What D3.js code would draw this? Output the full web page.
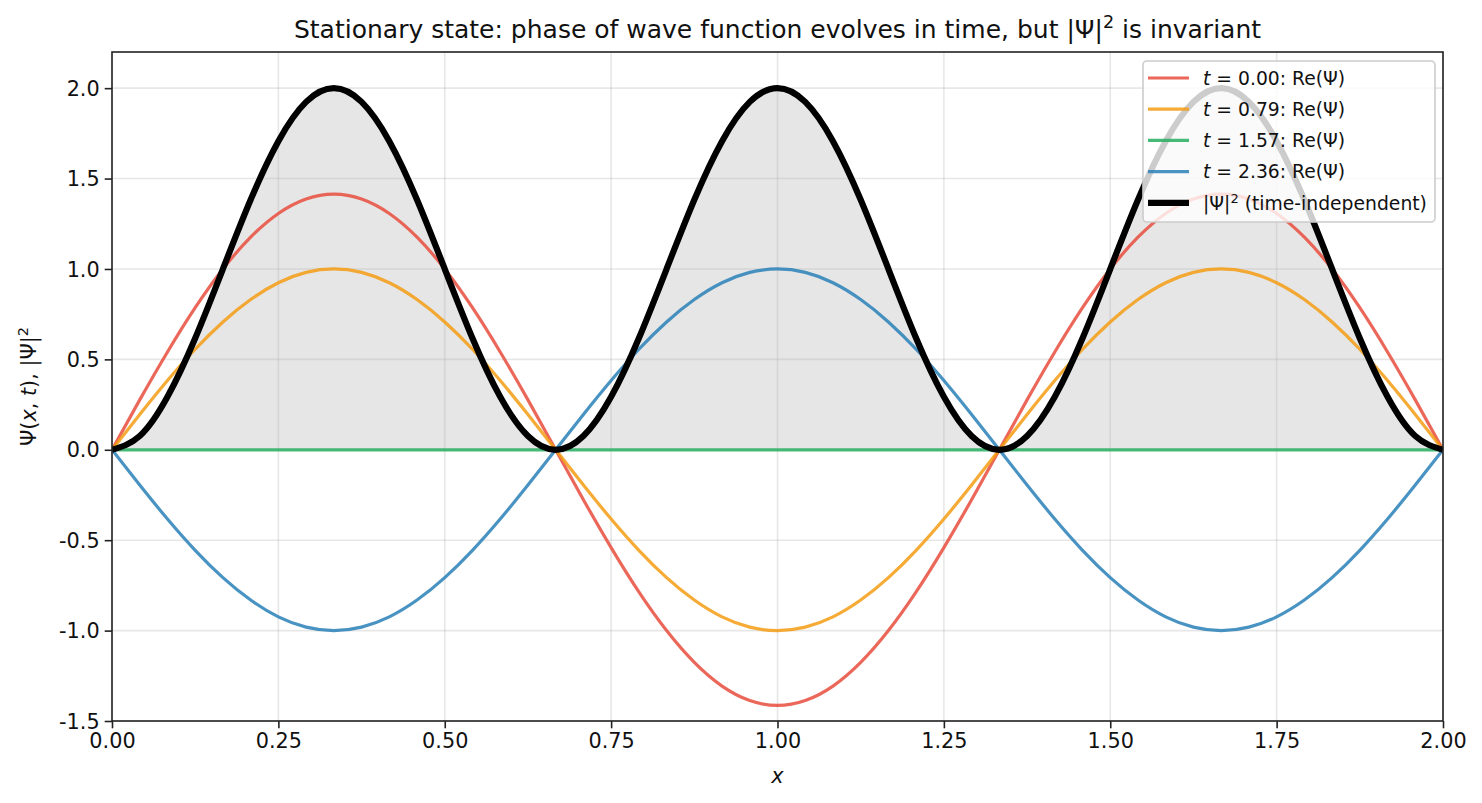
<!DOCTYPE html>
<html>
<head>
<meta charset="utf-8">
<script src="https://cdn.jsdelivr.net/npm/d3@7"></script>
<style>
  body { margin: 0; background: #fff; }
  svg { display: block; font-family: "DejaVu Sans", sans-serif; }
</style>
</head>
<body>
<svg id="chart" width="1482" height="803"></svg>
<script>
const xValues = d3.range(49).map(k => k / 24);
const reT000 = [0, 0.276, 0.541, 0.786, 1.000, 1.176, 1.307, 1.387, 1.414, 1.387, 1.307, 1.176, 1.000, 0.786, 0.541, 0.276, 0,
  -0.276, -0.541, -0.786, -1.000, -1.176, -1.307, -1.387, -1.414, -1.387, -1.307, -1.176, -1.000, -0.786, -0.541, -0.276, 0,
  0.276, 0.541, 0.786, 1.000, 1.176, 1.307, 1.387, 1.414, 1.387, 1.307, 1.176, 1.000, 0.786, 0.541, 0.276, 0];
const reT079 = [0, 0.195, 0.383, 0.556, 0.707, 0.831, 0.924, 0.981, 1.000, 0.981, 0.924, 0.831, 0.707, 0.556, 0.383, 0.195, 0,
  -0.195, -0.383, -0.556, -0.707, -0.831, -0.924, -0.981, -1.000, -0.981, -0.924, -0.831, -0.707, -0.556, -0.383, -0.195, 0,
  0.195, 0.383, 0.556, 0.707, 0.831, 0.924, 0.981, 1.000, 0.981, 0.924, 0.831, 0.707, 0.556, 0.383, 0.195, 0];
const reT157 = [0, 0, 0, 0, 0, 0, 0, 0, 0, 0, 0, 0, 0, 0, 0, 0, 0,
  0, 0, 0, 0, 0, 0, 0, 0, 0, 0, 0, 0, 0, 0, 0, 0,
  0, 0, 0, 0, 0, 0, 0, 0, 0, 0, 0, 0, 0, 0, 0, 0];
const reT236 = [0, -0.195, -0.383, -0.556, -0.707, -0.831, -0.924, -0.981, -1.000, -0.981, -0.924, -0.831, -0.707, -0.556, -0.383, -0.195, 0,
  0.195, 0.383, 0.556, 0.707, 0.831, 0.924, 0.981, 1.000, 0.981, 0.924, 0.831, 0.707, 0.556, 0.383, 0.195, 0,
  -0.195, -0.383, -0.556, -0.707, -0.831, -0.924, -0.981, -1.000, -0.981, -0.924, -0.831, -0.707, -0.556, -0.383, -0.195, 0];
const density = [0, 0.076, 0.293, 0.617, 1.000, 1.383, 1.707, 1.924, 2.000, 1.924, 1.707, 1.383, 1.000, 0.617, 0.293, 0.076, 0,
  0.076, 0.293, 0.617, 1.000, 1.383, 1.707, 1.924, 2.000, 1.924, 1.707, 1.383, 1.000, 0.617, 0.293, 0.076, 0,
  0.076, 0.293, 0.617, 1.000, 1.383, 1.707, 1.924, 2.000, 1.924, 1.707, 1.383, 1.000, 0.617, 0.293, 0.076, 0];
const timeLabels = ["0.00", "0.79", "1.57", "2.36"];
const xTicks = [0, 0.25, 0.5, 0.75, 1.0, 1.25, 1.5, 1.75, 2.0];
const yTicks = [-1.5, -1.0, -0.5, 0.0, 0.5, 1.0, 1.5, 2.0];

const series = [
  { t: timeLabels[0], values: reT000, color: "#e74c3c" },
  { t: timeLabels[1], values: reT079, color: "#f39c12" },
  { t: timeLabels[2], values: reT157, color: "#27ae60" },
  { t: timeLabels[3], values: reT236, color: "#2980b9" }
];

// ---- layout ----
const svg = d3.select("#chart");
const L = 112, R = 1443, T = 52, B = 721;
const x = d3.scaleLinear().domain([0, 2]).range([L, R]);
const y = d3.scaleLinear().domain([-1.5, 2.2]).range([B, T]);

// fill under density
const area = d3.area().x((d, i) => x(xValues[i])).y0(y(0)).y1(d => y(d)).curve(d3.curveNatural);
svg.append("path").datum(density).attr("d", area).attr("fill", "#808080").attr("fill-opacity", 0.2);

// grid
const grid = svg.append("g");
grid.selectAll(".gx").data(xTicks).enter().append("line")
  .attr("x1", d => x(d)).attr("x2", d => x(d)).attr("y1", T).attr("y2", B)
  .attr("stroke", "#b0b0b0").attr("stroke-opacity", 0.3).attr("stroke-width", 1.6);
grid.selectAll(".gy").data(yTicks).enter().append("line")
  .attr("y1", d => y(d)).attr("y2", d => y(d)).attr("x1", L).attr("x2", R)
  .attr("stroke", "#b0b0b0").attr("stroke-opacity", 0.3).attr("stroke-width", 1.6);

// lines
const line = d3.line().x((d, i) => x(xValues[i])).y(d => y(d)).curve(d3.curveNatural);
const clip = svg.append("clipPath").attr("id", "clip").append("rect")
  .attr("x", L).attr("y", T).attr("width", R - L).attr("height", B - T);
const plot = svg.append("g").attr("clip-path", "url(#clip)");
series.forEach(s => {
  plot.append("path").datum(s.values).attr("d", line)
    .attr("fill", "none").attr("stroke", s.color).attr("stroke-opacity", 0.85)
    .attr("stroke-width", 3.2).attr("stroke-linejoin", "round");
});
plot.append("path").datum(density).attr("d", line)
  .attr("fill", "none").attr("stroke", "#000").attr("stroke-width", 6.2).attr("stroke-linejoin", "round");

// axes
const xAxis = d3.axisBottom(x).tickValues(xTicks).tickFormat(d3.format(".2f")).tickSizeOuter(0).tickSize(7.3).tickPadding(5);
const yAxis = d3.axisLeft(y).tickValues(yTicks).tickFormat(d => d3.format(".1f")(d).replace("\u2212", "-")).tickSizeOuter(0).tickSize(7.3).tickPadding(5);
const gx = svg.append("g").attr("transform", `translate(0,${B})`).call(xAxis);
const gy = svg.append("g").attr("transform", `translate(${L},0)`).call(yAxis);
[gx, gy].forEach(g => {
  g.select(".domain").remove();
  g.selectAll(".tick line").attr("stroke", "#222").attr("stroke-width", 1.6);
  g.selectAll(".tick text").attr("font-size", 20.8).attr("fill", "#111").attr("font-family", "DejaVu Sans");
});
gy.selectAll(".tick text").attr("dy", "0.34em");

// frame
svg.append("rect").attr("x", L).attr("y", T).attr("width", R - L).attr("height", B - T)
  .attr("fill", "none").attr("stroke", "#222").attr("stroke-width", 1.6);

// title
const title = svg.append("text").attr("x", (L + R) / 2).attr("y", 38).attr("text-anchor", "middle")
  .attr("font-size", 25).attr("fill", "#111");
title.append("tspan").text("Stationary state: phase of wave function evolves in time, but |Ψ|");
title.append("tspan").attr("dy", -10).attr("font-size", 17.5).text("2");
title.append("tspan").attr("dy", 10).text(" is invariant");

// x label
svg.append("text").attr("x", (L + R) / 2).attr("y", 783).attr("text-anchor", "middle")
  .attr("font-size", 20.8).attr("font-style", "italic").attr("fill", "#111").text("x");

// y label
const yl = svg.append("text").attr("transform", `translate(36,${(T + B) / 2}) rotate(-90)`)
  .attr("text-anchor", "middle").attr("font-size", 20.8).attr("fill", "#111");
yl.append("tspan").text("Ψ(");
yl.append("tspan").attr("font-style", "italic").text("x");
yl.append("tspan").text(", ");
yl.append("tspan").attr("font-style", "italic").text("t");
yl.append("tspan").text("), |Ψ|");
yl.append("tspan").attr("dy", -8).attr("font-size", 14.6).text("2");

// legend
const lg = svg.append("g");
lg.append("rect").attr("x", 1143).attr("y", 61).attr("width", 292).attr("height", 161).attr("rx", 4)
  .attr("fill", "#fff").attr("fill-opacity", 0.8).attr("stroke", "#cccccc").attr("stroke-width", 1.6);
const rowY = i => 78 + i * 31.2;
series.forEach((s, i) => {
  lg.append("line").attr("x1", 1148).attr("x2", 1189).attr("y1", rowY(i)).attr("y2", rowY(i))
    .attr("stroke", s.color).attr("stroke-opacity", 0.85).attr("stroke-width", 3.2);
  const tx = lg.append("text").attr("x", 1203).attr("y", rowY(i)).attr("dy", "0.36em")
    .attr("font-size", 18.75).attr("fill", "#111");
  tx.append("tspan").attr("font-style", "italic").text("t");
  tx.append("tspan").text(" = " + s.t + ": Re(Ψ)");
});
lg.append("line").attr("x1", 1148).attr("x2", 1189).attr("y1", rowY(4)).attr("y2", rowY(4))
  .attr("stroke", "#000").attr("stroke-width", 6.2);
const dt = lg.append("text").attr("x", 1203).attr("y", rowY(4)).attr("dy", "0.36em")
  .attr("font-size", 18.75).attr("fill", "#111");
dt.append("tspan").text("|Ψ|");
dt.append("tspan").attr("dy", -7).attr("font-size", 13).text("2");
dt.append("tspan").attr("dy", 7).text(" (time-independent)");
</script>
</body>
</html>
